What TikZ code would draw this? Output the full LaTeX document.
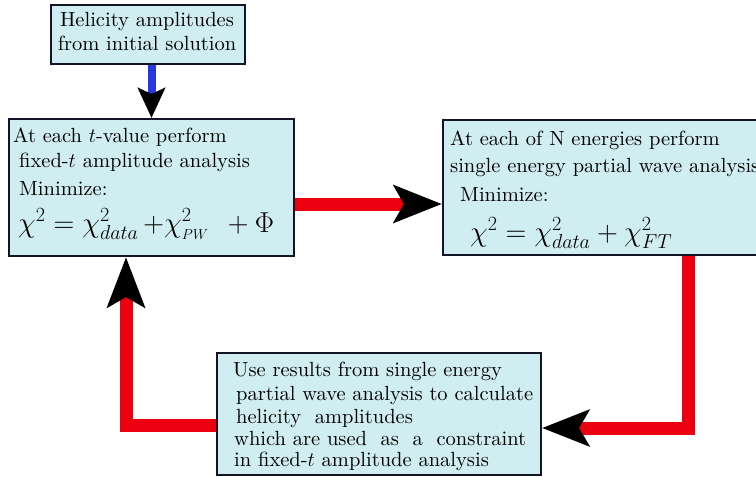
\RequirePackage{fix-cm}
\documentclass[tikz,border=0pt]{standalone}
\usepackage{fontspec}
\setmainfont{lmroman10-regular.otf}
\usetikzlibrary{arrows.meta}
\definecolor{boxfill}{RGB}{208,237,241}
\definecolor{boxline}{RGB}{20,20,40}
\definecolor{flowred}{RGB}{236,0,16}
\definecolor{flowblue}{RGB}{40,56,224}
\tikzset{
  box/.style={draw=boxline, fill=boxfill, line width=2pt, inner sep=0pt, anchor=north west},
  txt/.style={inner sep=0pt, anchor=base west, font=\fontsize{20.5}{24}\selectfont},
  mth/.style={inner sep=0pt, anchor=base west, font=\fontsize{28.8}{32}\selectfont},
  redflow/.style={draw=flowred, line width=13pt, line join=miter},
  blueflow/.style={draw=flowblue, line width=8pt},
}
\begin{document}
\begin{tikzpicture}[x=1pt,y=-1pt]
\useasboundingbox (0,0) rectangle (756,477);
\clip (0,0) rectangle (756,477);

% boxes
\node[box, minimum width=194pt, minimum height=59pt] (A) at (50,4) {};
\node[box, minimum width=285pt, minimum height=137pt] (B) at (8,118) {};
\node[box, minimum width=340pt, minimum height=135pt] (C) at (442,119) {};
\node[box, minimum width=324pt, minimum height=122pt] (D) at (216,352) {};

% box A text
\node[txt, anchor=base] (a1) at (147,26) {Helicity amplitudes};
\node[txt, anchor=base] (a2) at (147,50) {from initial solution};

% box B text
\node[txt] (b1) at (13,142) {At each $t$-value perform};
\node[txt] (b2) at (19,167) {fixed-$t$ amplitude analysis};
\node[txt] (b3) at (19,195) {Minimize:};
\node[mth] (b4) at (18,232) {$\chi^2 = \chi^2_{data}\,{+}\chi^2_{\scriptscriptstyle PW}\;\,+\Phi$};

% box C text
\node[txt] (c1t) at (450,145) {At each of N energies perform};
\node[txt] (c2t) at (450,172) {single energy partial wave analysis};
\node[txt] (c3t) at (460,201) {Minimize:};
\node[mth] (c4t) at (470,241) {$\chi^2 = \chi^2_{data} + \chi^2_{FT}$};

% box D text
\node[txt] (d1) at (233,376) {Use results from single energy};
\node[txt] (d2) at (236,400) {partial wave analysis to calculate};
\node[txt] (d3) at (236,423) {helicity\ \ amplitudes};
\node[txt] (d4) at (234,445) {which are used\ \ as\ \ a\ \ constraint};
\node[txt] (d5) at (234,466) {in fixed-$t$ amplitude analysis};

% connectors
\coordinate (k1) at (688,428);
\coordinate (k2) at (126,425);

\draw[blueflow, -{Stealth[black, length=30pt, width=27pt, inset=6pt]}]
  (A.south -| B.north) -- (B.north);
\draw[redflow, -{Stealth[black, length=48pt, width=37pt, inset=10pt]}]
  ([yshift=-16.5pt]B.east) -- ([yshift=-16.5pt]C.west);
\draw[redflow, -{Stealth[black, length=47pt, width=36pt, inset=10pt]}]
  (C.south -| k1) -- (k1) -- (D.east |- k1);
\draw[redflow, -{Stealth[black, length=50pt, width=37pt, inset=10pt]}]
  (D.west |- k2) -- (k2) -- (B.south -| k2);
\end{tikzpicture}
\end{document}
